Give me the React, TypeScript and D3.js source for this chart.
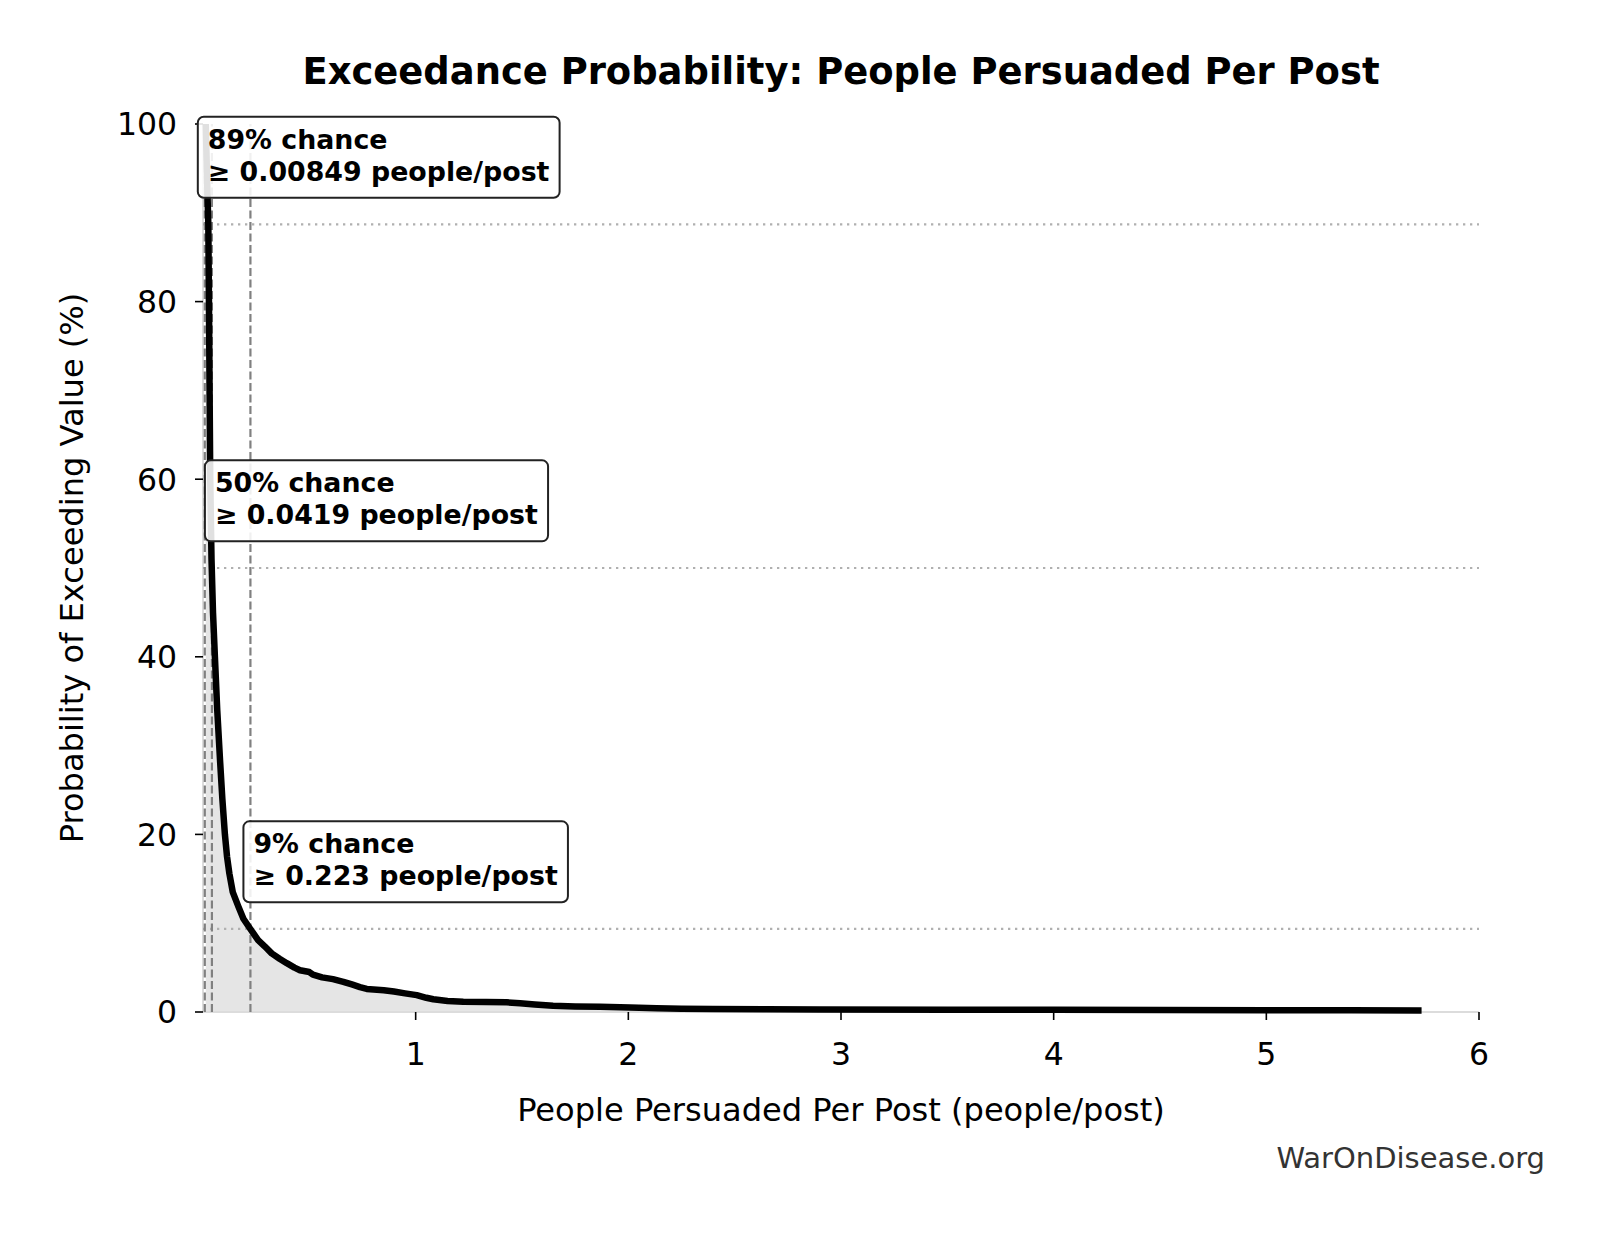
import React, { useEffect, useRef } from "react";
import * as d3 from "d3";

// curve: people persuaded per post vs. % chance of exceeding it
const peoplePerPost = [
  0.013, 0.016, 0.02, 0.025, 0.028, 0.031, 0.034, 0.04, 0.047, 0.056, 0.067, 0.08, 0.091,
  0.103, 0.113, 0.124, 0.14, 0.166, 0.19, 0.221, 0.259, 0.29, 0.323, 0.36, 0.394, 0.43,
  0.456, 0.5, 0.517, 0.56, 0.611, 0.66, 0.7, 0.738, 0.77, 0.85, 0.898, 0.95, 1.005, 1.05,
  1.083, 1.15, 1.224, 1.33, 1.428, 1.491, 1.56, 1.646, 1.75, 1.867, 2.008, 2.133, 2.25,
  2.398, 2.65, 2.901, 3.5, 4.0, 4.5, 5.0, 5.4, 5.73,
];
const exceedPct = [
  100, 97, 93, 88.7, 80, 70, 60, 51, 45, 40, 34, 28.4, 24,
  20, 17.5, 15.6, 13.5, 11.9, 10.5, 9.4, 8.1, 7.4, 6.6, 6.0, 5.5, 5.0,
  4.7, 4.5, 4.2, 3.9, 3.7, 3.4, 3.1, 2.8, 2.6, 2.45, 2.3, 2.1, 1.9, 1.6,
  1.43, 1.25, 1.16, 1.12, 1.09, 0.98, 0.85, 0.7, 0.63, 0.6, 0.52, 0.42, 0.37,
  0.34, 0.31, 0.29, 0.26, 0.24, 0.22, 0.2, 0.19, 0.18,
];

const markerValue = [0.00849, 0.0419, 0.223];
const markerChance = [88.7, 50, 9.35];
const chanceLabels = ["89% chance", "50% chance", "9% chance"];
const valueLabels = ["≥ 0.00849 people/post", "≥ 0.0419 people/post", "≥ 0.223 people/post"];

const xTicks = [1, 2, 3, 4, 5, 6];
const yTicks = [0, 20, 40, 60, 80, 100];

const width = 1603;
const height = 1233;
const marginTop = 124;
const marginRight = 124;
const marginBottom = 221;
const marginLeft = 203;
const font = "'DejaVu Sans', sans-serif";

export default function App() {
  const ref = useRef<SVGSVGElement>(null);

  useEffect(() => {
    const svg = d3.select(ref.current);
    svg.selectAll("*").remove();

    const x = d3.scaleLinear().domain([0, 6]).range([marginLeft, width - marginRight]);
    const y = d3.scaleLinear().domain([0, 100]).range([height - marginBottom, marginTop]);
    const data = peoplePerPost.map((v, i) => ({ v, p: exceedPct[i] }));

    svg.append("rect").attr("width", width).attr("height", height).attr("fill", "#fff");

    // shaded area under the curve
    svg.append("path")
      .datum(data)
      .attr("fill", "#e5e5e5")
      .attr("d", d3.area<any>().x(d => x(d.v)).y0(y(0)).y1(d => y(d.p)));

    // spines (left + bottom, light)
    svg.append("line")
      .attr("x1", x(0)).attr("x2", x(0)).attr("y1", y(0)).attr("y2", y(100))
      .attr("stroke", "#dcdcdc").attr("stroke-width", 2);
    svg.append("line")
      .attr("x1", x(0)).attr("x2", x(6)).attr("y1", y(0)).attr("y2", y(0))
      .attr("stroke", "#dcdcdc").attr("stroke-width", 2);

    // horizontal dotted reference lines
    svg.append("g").selectAll("line").data(markerChance).join("line")
      .attr("x1", x(0)).attr("x2", x(6))
      .attr("y1", d => y(d)).attr("y2", d => y(d))
      .attr("stroke", "#b0b0b0").attr("stroke-width", 2.2)
      .attr("stroke-dasharray", "2.3,4.7");

    // vertical dashed reference lines
    svg.append("g").selectAll("line").data(markerValue).join("line")
      .attr("x1", d => x(d)).attr("x2", d => x(d))
      .attr("y1", y(0)).attr("y2", y(100))
      .attr("stroke", "#808080").attr("stroke-width", 2.2)
      .attr("stroke-dasharray", "8,3.5");

    // curve
    svg.append("path")
      .datum(data)
      .attr("fill", "none")
      .attr("stroke", "#000")
      .attr("stroke-width", 6.5)
      .attr("stroke-linejoin", "round")
      .attr("stroke-linecap", "butt")
      .attr("d", d3.line<any>().x(d => x(d.v)).y(d => y(d.p)));

    // y axis
    const yAxis = svg.append("g");
    yAxis.selectAll("line").data(yTicks).join("line")
      .attr("x1", x(0) - 8).attr("x2", x(0))
      .attr("y1", d => y(d)).attr("y2", d => y(d))
      .attr("stroke", "#000").attr("stroke-width", 1.6);
    yAxis.selectAll("text").data(yTicks).join("text")
      .attr("x", x(0) - 26).attr("y", d => y(d)).attr("dy", "0.36em")
      .attr("text-anchor", "end")
      .attr("font-family", font).attr("font-size", 31.5)
      .text(d => d);

    // x axis
    const xAxis = svg.append("g");
    xAxis.selectAll("line").data(xTicks).join("line")
      .attr("x1", d => x(d)).attr("x2", d => x(d))
      .attr("y1", y(0)).attr("y2", y(0) + 8)
      .attr("stroke", "#000").attr("stroke-width", 1.6);
    xAxis.selectAll("text").data(xTicks).join("text")
      .attr("x", d => x(d)).attr("y", y(0) + 53)
      .attr("text-anchor", "middle")
      .attr("font-family", font).attr("font-size", 31.5)
      .text(d => d);

    // axis labels + title
    svg.append("text")
      .attr("x", (x(0) + x(6)) / 2).attr("y", 1121)
      .attr("text-anchor", "middle")
      .attr("font-family", font).attr("font-size", 32.1)
      .text("People Persuaded Per Post (people/post)");
    svg.append("text")
      .attr("transform", `translate(83,${(y(0) + y(100)) / 2}) rotate(-90)`)
      .attr("text-anchor", "middle")
      .attr("font-family", font).attr("font-size", 32.1)
      .text("Probability of Exceeding Value (%)");
    svg.append("text")
      .attr("x", (x(0) + x(6)) / 2).attr("y", 84)
      .attr("text-anchor", "middle")
      .attr("font-family", font).attr("font-size", 36.9).attr("font-weight", "bold")
      .text("Exceedance Probability: People Persuaded Per Post");

    // annotation boxes
    markerValue.forEach((v, i) => {
      const g = svg.append("g");
      const bottom = y(markerChance[i] + 3);
      const tx = x(v) + 3;
      const base2 = bottom - 17;
      const base1 = base2 - 32;
      const rect = g.append("rect");
      const t = g.append("text")
        .attr("font-family", font).attr("font-size", 26.8).attr("font-weight", "bold")
        .attr("fill", "#000");
      t.append("tspan").attr("x", tx).attr("y", base1).text(chanceLabels[i]);
      t.append("tspan").attr("x", tx).attr("y", base2).text(valueLabels[i]);
      const w = (t.node() as SVGTextElement).getBBox().width;
      rect
        .attr("x", tx - 10).attr("y", base1 - 32)
        .attr("width", w + 20).attr("height", 81)
        .attr("rx", 6).attr("ry", 6)
        .attr("fill", "#fff").attr("fill-opacity", 0.88)
        .attr("stroke", "#222").attr("stroke-width", 2);
    });

    svg.append("text")
      .attr("x", 1545).attr("y", 1168)
      .attr("text-anchor", "end")
      .attr("font-family", font).attr("font-size", 29)
      .attr("fill", "#333")
      .text("WarOnDisease.org");
  }, []);

  return (
    <svg
      ref={ref}
      width={width}
      height={height}
      style={{ position: "absolute", left: 0, top: 0, display: "block" }}
    />
  );
}
